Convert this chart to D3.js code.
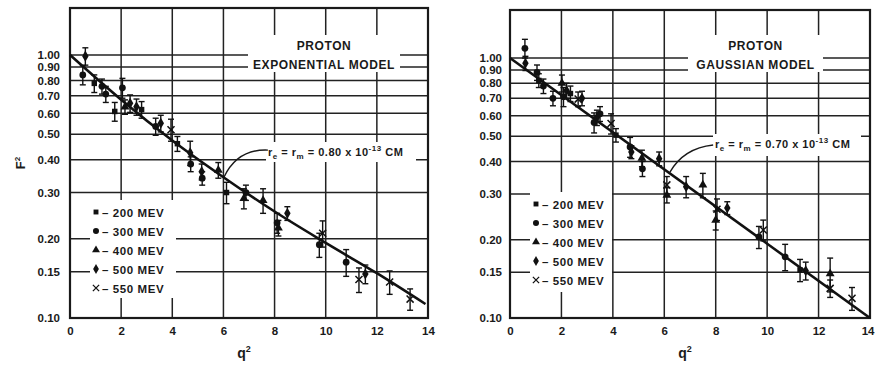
<!DOCTYPE html>
<html>
<head>
<meta charset="utf-8">
<script src="https://cdn.jsdelivr.net/npm/d3@7"></script>
<style>
  body { margin: 0; background: #fff; }
  text { font-family: "Liberation Sans", "DejaVu Sans", sans-serif; fill: #1a1a1a; font-weight: bold; }
</style>
</head>
<body>
<div id="chart"></div>
<script>
// Proton form factor F^2 vs q^2, two model fits (Hofstadter-style plot)

const beams = [200, 300, 400, 500, 550]           // MeV, legend order
const xTicks = [0, 2, 4, 6, 8, 10, 12, 14]
const yTicks = [1.0, 0.9, 0.8, 0.7, 0.6, 0.5, 0.4, 0.3, 0.2, 0.15, 0.1]

// left panel: exponential model
const expQ2   = [0.6, 0.5, 0.95, 1.25, 1.4, 1.75, 2.05, 2.15, 2.35, 2.6, 2.8, 3.35, 3.55, 3.95, 4.2, 4.7, 4.72, 5.15, 5.17, 5.8,
                 6.12, 6.8, 6.88, 7.55, 8.1, 8.15, 8.5, 9.75, 9.88, 10.8, 11.3, 11.55, 12.5, 13.3]
const expF2   = [0.99, 0.84, 0.78, 0.76, 0.71, 0.61, 0.75, 0.635, 0.655, 0.635, 0.62, 0.535, 0.55, 0.52, 0.46, 0.425, 0.385, 0.36, 0.34, 0.365,
                 0.30, 0.285, 0.30, 0.28, 0.23, 0.22, 0.25, 0.19, 0.21, 0.163, 0.14, 0.147, 0.137, 0.118]
const expErr  = [0.075, 0.07, 0.06, 0.05, 0.05, 0.05, 0.065, 0.04, 0.05, 0.045, 0.045, 0.04, 0.04, 0.05, 0.03, 0.045, 0.025, 0.025, 0.02, 0.025,
                 0.028, 0.025, 0.02, 0.03, 0.02, 0.015, 0.015, 0.02, 0.024, 0.019, 0.015, 0.012, 0.014, 0.011]
const expBeam = [500, 300, 200, 300, 300, 200, 300, 400, 500, 500, 200, 300, 500, 550, 200, 500, 300, 500, 300, 400,
                 200, 400, 300, 400, 300, 400, 500, 300, 550, 300, 550, 500, 550, 550]
const expLineQ2 = [0, 2, 4, 6, 8, 10, 12, 13.9]
const expLineF2 = [1.0, 0.676, 0.473, 0.343, 0.254, 0.193, 0.148, 0.113]

// right panel: gaussian model
const gauQ2   = [0.58, 0.6, 1.05, 1.12, 1.3, 1.67, 2.02, 2.08, 2.2, 2.35, 2.65, 2.8, 3.27, 3.38, 3.5, 3.93, 4.12, 4.67, 4.72, 5.13, 5.15,
                 5.8, 6.1, 6.1, 6.85, 7.5, 8.05, 8.0, 8.45, 9.68, 9.85, 10.7, 11.28, 11.5, 12.45, 12.45, 13.3]
const gauF2   = [1.09, 0.955, 0.88, 0.82, 0.78, 0.70, 0.80, 0.71, 0.75, 0.73, 0.695, 0.70, 0.565, 0.59, 0.61, 0.56, 0.505, 0.455, 0.435, 0.412, 0.375,
                 0.41, 0.325, 0.297, 0.32, 0.325, 0.262, 0.238, 0.265, 0.205, 0.218, 0.172, 0.153, 0.152, 0.148, 0.13, 0.119]
const gauErr  = [0.09, 0.06, 0.06, 0.05, 0.05, 0.045, 0.06, 0.06, 0.05, 0.05, 0.045, 0.045, 0.05, 0.04, 0.04, 0.05, 0.03, 0.04, 0.025, 0.03, 0.025,
                 0.025, 0.025, 0.02, 0.03, 0.035, 0.025, 0.02, 0.015, 0.02, 0.02, 0.02, 0.015, 0.012, 0.022, 0.01, 0.012]
const gauBeam = [300, 500, 300, 200, 300, 300, 400, 300, 500, 200, 550, 500, 300, 500, 300, 550, 200, 300, 500, 400, 300,
                 500, 550, 400, 500, 400, 550, 400, 500, 300, 550, 300, 200, 500, 400, 550, 550]
const gauLineQ2 = [0, 14]
const gauLineF2 = [1.0, 0.10]

const panels = [
  { x0: 70, y0: 8, w: 358, h: 310, yMax: 1.509, q2: expQ2, f2: expF2, err: expErr, beam: expBeam,
    lq: expLineQ2, lf: expLineF2, model: 'EXPONENTIAL MODEL', radius: '0.80', yLabel: true,
    titleBox: [178, 27, 152, 37], legend: [20, 192, 86, 98], fBox: [196, 134, 150, 20],
    arrow: [[7.74, 0.435], [6.55, 0.44], [6.02, 0.343]] },
  { x0: 510, y0: 10, w: 360, h: 308, yMax: 1.53, q2: gauQ2, f2: gauF2, err: gauErr, beam: gauBeam,
    lq: gauLineQ2, lf: gauLineF2, model: 'GAUSSIAN MODEL', radius: '0.70', yLabel: false,
    titleBox: [178, 25, 135, 37], legend: [20, 182, 82, 100], fBox: [203, 124, 148, 22],
    arrow: [[7.9, 0.463], [6.75, 0.45], [6.22, 0.364]] }
]

const symType = { 200: d3.symbolSquare, 300: d3.symbolCircle, 400: d3.symbolTriangle,
                  500: d3.symbolDiamond, 550: d3.symbolX || d3.symbolCross }
const symSize = { 200: 30, 300: 36, 400: 34, 500: 36, 550: 34 }

const svg = d3.select('#chart').append('svg').attr('width', 875).attr('height', 366)

panels.forEach(drawPanel)

function drawPanel(p) {
  const x = d3.scaleLinear([0, 14], [0, p.w])
  const y = d3.scaleLog([0.1, p.yMax], [p.h, 0])
  const g = svg.append('g').attr('transform', `translate(${p.x0},${p.y0})`)

  // grid
  g.selectAll('.hg').data(yTicks.filter(d => d > 0.1)).join('line')
    .attr('x1', 0).attr('x2', p.w).attr('y1', d => y(d)).attr('y2', d => y(d))
    .attr('stroke', '#222').attr('stroke-width', 1.5)
  g.selectAll('.vg').data(xTicks.filter(d => d > 0 && d < 14)).join('line')
    .attr('x1', d => x(d)).attr('x2', d => x(d)).attr('y1', 0).attr('y2', p.h)
    .attr('stroke', '#222').attr('stroke-width', 1.5)

  // white patches behind title, legend and formula
  for (const b of [p.titleBox, p.legend, p.fBox])
    g.append('rect').attr('x', b[0]).attr('y', b[1]).attr('width', b[2]).attr('height', b[3]).attr('fill', '#fff')

  g.append('rect').attr('width', p.w).attr('height', p.h)
    .attr('fill', 'none').attr('stroke', '#1a1a1a').attr('stroke-width', 2.2)

  // axes
  const ax = g.append('g').attr('transform', `translate(0,${p.h})`)
    .call(d3.axisBottom(x).tickValues(xTicks).tickSize(0).tickPadding(9))
  const ay = g.append('g')
    .call(d3.axisLeft(y).tickValues(yTicks).tickFormat(d3.format('.2f')).tickSize(0).tickPadding(p.yLabel ? 10 : 8))
  for (const a of [ax, ay]) {
    a.select('.domain').remove()
    a.selectAll('text').style('font-family', '"Liberation Sans", sans-serif')
      .style('font-size', '11.5px').style('font-weight', 'bold').attr('fill', '#1a1a1a')
  }
  if (!p.yLabel) ax.selectAll('text').filter(d => d === 14).attr('text-anchor', 'end').attr('x', 4)

  // axis titles
  const qt = g.append('text').attr('x', p.w / 2 - 5).attr('y', p.h + 40)
    .attr('text-anchor', 'middle').style('font-size', '14px')
  qt.append('tspan').text('q')
  qt.append('tspan').attr('dy', -6).style('font-size', '9px').text('2')
  if (p.yLabel) {
    const ft = g.append('text').attr('transform', `translate(${-45},${155}) rotate(-90)`)
      .attr('text-anchor', 'middle').style('font-size', '13px')
    ft.append('tspan').text('F')
    ft.append('tspan').attr('dy', -5).style('font-size', '8px').text('2')
  }

  // title
  const tcx = p.titleBox[0] + p.titleBox[2] / 2
  g.append('text').attr('x', tcx).attr('y', p.titleBox[1] + 15).attr('text-anchor', 'middle')
    .style('font-size', '12px').style('letter-spacing', '0.6px').text('PROTON')
  g.append('text').attr('x', tcx).attr('y', p.titleBox[1] + 34).attr('text-anchor', 'middle')
    .style('font-size', '12px').style('letter-spacing', '0.6px').text(p.model)

  // formula
  const ftx = g.append('text').attr('x', p.fBox[0] + 2).attr('y', p.fBox[1] + 14)
    .style('font-size', '11px').style('letter-spacing', '0.5px')
  ftx.append('tspan').text('r')
  ftx.append('tspan').attr('dy', 3).style('font-size', '8px').text('e')
  ftx.append('tspan').attr('dy', -3).text(' = r')
  ftx.append('tspan').attr('dy', 3).style('font-size', '8px').text('m')
  ftx.append('tspan').attr('dy', -3).text(` = ${p.radius}  x  10`)
  ftx.append('tspan').attr('dy', -5).style('font-size', '8px').text('-13')
  ftx.append('tspan').attr('dy', 5).text(' CM')

  // pointer curve from formula to fit line
  const [a0, a1, a2] = p.arrow
  g.append('path')
    .attr('d', `M${x(a0[0])},${y(a0[1])} Q${x(a1[0])},${y(a1[1])} ${x(a2[0])},${y(a2[1])}`)
    .attr('fill', 'none').attr('stroke', '#1a1a1a').attr('stroke-width', 1.4)

  // fit line
  const pts = p.lq.map((q, i) => [q, p.lf[i]])
  g.append('path').datum(pts)
    .attr('d', d3.line().x(d => x(d[0])).y(d => y(d[1])).curve(d3.curveMonotoneX))
    .attr('fill', 'none').attr('stroke', '#111').attr('stroke-width', 2.6)

  // legend
  const lg = g.append('g').selectAll('g').data(beams).join('g')
    .attr('transform', (d, i) => `translate(${p.legend[0] + 6},${p.legend[1] + 12 + i * 19})`)
  lg.append('path').attr('d', d => d3.symbol(symType[d], symSize[d] * 0.8)())
    .attr('fill', '#111').attr('stroke', d => d === 550 ? '#111' : 'none').attr('stroke-width', 1.3)
  lg.append('text').attr('x', 6).attr('y', 4.5).style('font-size', '11.5px').style('letter-spacing', '0.6px')
    .text(d => `– ${d} MEV`)

  // data points with error bars
  const data = p.q2.map((q, i) => ({ q, f: p.f2[i], e: p.err[i], b: p.beam[i] }))
  const pg = g.append('g').selectAll('g').data(data).join('g')
    .attr('transform', d => `translate(${x(d.q)},0)`)
  pg.append('line').attr('y1', d => y(d.f + d.e)).attr('y2', d => y(d.f - d.e))
    .attr('stroke', '#111').attr('stroke-width', 1.4)
  pg.append('line').attr('x1', -3).attr('x2', 3).attr('y1', d => y(d.f + d.e)).attr('y2', d => y(d.f + d.e))
    .attr('stroke', '#111').attr('stroke-width', 1.4)
  pg.append('line').attr('x1', -3).attr('x2', 3).attr('y1', d => y(d.f - d.e)).attr('y2', d => y(d.f - d.e))
    .attr('stroke', '#111').attr('stroke-width', 1.4)
  pg.append('path').attr('transform', d => `translate(0,${y(d.f)})`)
    .attr('d', d => d3.symbol(symType[d.b], symSize[d.b])())
    .attr('fill', '#111').attr('stroke', d => d.b === 550 ? '#111' : 'none').attr('stroke-width', 1.5)
}
</script>
</body>
</html>
